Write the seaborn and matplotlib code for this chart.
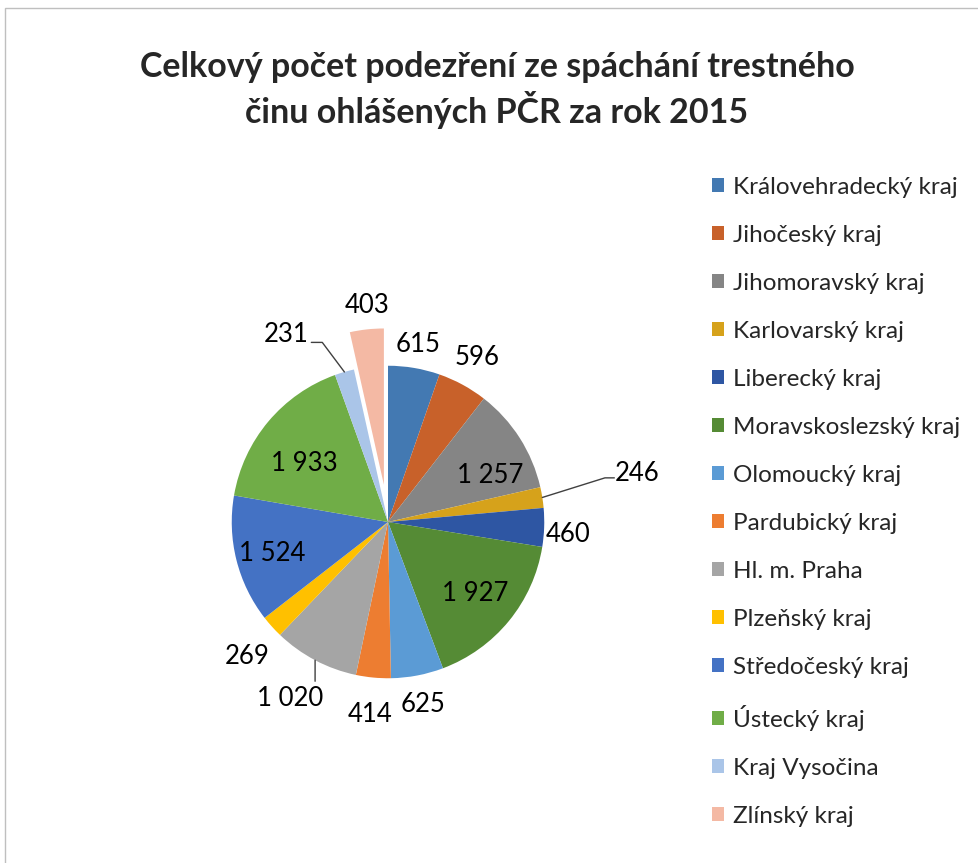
import matplotlib
matplotlib.use("Agg")
import matplotlib.pyplot as plt
import numpy as np
import seaborn as sns
from matplotlib.patches import Rectangle

regions = [
    "Královehradecký kraj", "Jihočeský kraj", "Jihomoravský kraj", "Karlovarský kraj",
    "Liberecký kraj", "Moravskoslezský kraj", "Olomoucký kraj", "Pardubický kraj",
    "Hl. m. Praha", "Plzeňský kraj", "Středočeský kraj", "Ústecký kraj",
    "Kraj Vysočina", "Zlínský kraj",
]
counts = [615, 596, 1257, 246, 460, 1927, 625, 414, 1020, 269, 1524, 1933, 231, 403]
colors = [
    "#4379B2", "#C8612A", "#858585", "#D6A21B", "#2E56A3", "#558B35", "#5B9BD5",
    "#ED7D31", "#A5A5A5", "#FFC000", "#4472C4", "#70AD47", "#AAC5E8", "#F4B9A4",
]
title = "Celkový počet podezření ze spáchání trestného\nčinu ohlášených PČR za rok 2015"

# label placement: radius (in pie radii) and angle shift from the wedge middle
label_r = [1.15, 1.2, 0.72, None, 1.155, 0.72, 1.19, 1.24, None, 1.245, 0.77, 0.65, None, 1.155]
label_dtheta = [0, 0, -8, 0, -2, 0, 0, 0, 0, 1.5, 1, 5, 0, -1]
# leader lines: elbow (radius, angle), horizontal tail, text alignment and offset from elbow
leaders = {
    3: (1.417, 11.5, (0.06, 0.0), "left", (0.06, 0.03)),
    8: (1.121, -114.6, (0.0, 0.0), "center", (-0.16, -0.11)),
    12: (1.224, 110.1, (-0.07, 0.0), "right", (-0.09, 0.05)),
}


def fmt(v):
    return f"{v:,}".replace(",", " ")


sns.set_theme(style="white")
plt.rcParams["font.family"] = ["Lato", "DejaVu Sans"]

fig = plt.figure(figsize=(9.79, 8.63), dpi=100)
fig.patches.append(Rectangle((5 / 979, -0.2), 1.2, 0.2 + 1 - 8 / 863, transform=fig.transFigure,
                             fill=False, edgecolor="#BFBFBF", linewidth=1))

ax = fig.add_axes([138 / 979, 91 / 863, 500 / 979, 500 / 863])
explode = [0] * (len(counts) - 1) + [0.24]
wedges, _ = ax.pie(counts, colors=colors, startangle=90, counterclock=False, explode=explode,
                   radius=1, wedgeprops=dict(linewidth=0))
ax.set_xlim(-1.6, 1.6)
ax.set_ylim(-1.6, 1.6)
ax.set_aspect("equal")
ax.axis("off")

for i, w in enumerate(wedges):
    mid = (w.theta1 + w.theta2) / 2
    cx, cy = w.center
    if i in leaders:
        er, ea, (hx, hy), ha, (tx, ty) = leaders[i]
        x0, y0 = cx + np.cos(np.radians(mid)), cy + np.sin(np.radians(mid))
        x1, y1 = cx + er * np.cos(np.radians(ea)), cy + er * np.sin(np.radians(ea))
        ax.plot([x0, x1, x1 + hx], [y0, y1, y1 + hy], color="#404040", lw=1, clip_on=False)
        ax.text(x1 + tx, y1 + ty, fmt(counts[i]), ha=ha, va="center", fontsize=18.5, color="#000000")
    else:
        a = np.radians(mid + label_dtheta[i])
        ax.text(cx + label_r[i] * np.cos(a), cy + label_r[i] * np.sin(a), fmt(counts[i]),
                ha="center", va="center", fontsize=18.5, color="#000000")

fig.text(497 / 979, 1 - 90 / 863, title, ha="center", va="center", fontsize=24.5,
         fontweight="bold", linespacing=1.28)

fig.legend(wedges, regions, loc="upper left", bbox_to_anchor=(712 / 979, 1 - 177 / 863),
           frameon=False, fontsize=17.5, handlelength=0.5, handleheight=0.5, handletextpad=0.35,
           labelspacing=1.11, borderpad=0, borderaxespad=0)

fig.savefig("out.png", dpi=100)
